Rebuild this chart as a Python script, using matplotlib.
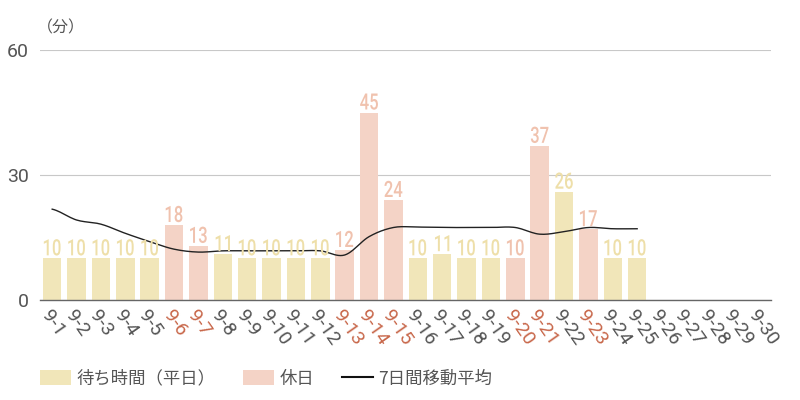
import numpy as np
import matplotlib
matplotlib.use("Agg")
import matplotlib.pyplot as plt
from matplotlib.patches import Patch, PathPatch
from matplotlib.lines import Line2D
from matplotlib.textpath import TextPath
from matplotlib.font_manager import FontProperties
from matplotlib.transforms import Affine2D, IdentityTransform

plt.rcParams['font.family'] = ['Noto Sans CJK JP', 'DejaVu Sans']

dates = [f"9-{d}" for d in range(1, 31)]
waits = [10, 10, 10, 10, 10, 18, 13, 11, 10, 10, 10, 10, 12, 45, 24,
         10, 11, 10, 10, 10, 37, 26, 17, 10, 10]
holidays = ["9-6", "9-7", "9-13", "9-14", "9-15", "9-20", "9-21", "9-23"]
moving_avg = [21.8, 19.2, 18.2, 16.0, 14.0, 12.2, 11.5, 11.8, 11.8, 11.8,
              11.8, 11.8, 10.8, 15.2, 17.4, 17.5, 17.4, 17.4, 17.4, 17.4,
              15.8, 16.4, 17.4, 17.1, 17.1]
yticks = [0, 30, 60]

YELLOW = "#F1E6B9"
PINK = "#F4D3C6"
YELLOW_TXT = "#EEDFA9"
PINK_TXT = "#F0C2AE"
RED = "#C8674A"
GRAY = "#555555"

fig = plt.figure(figsize=(8, 4), dpi=100)
ax = fig.add_axes([0.05, 0.25, 0.914, 0.625])

x = np.arange(len(dates))
n = len(waits)
colors = [PINK if dates[i] in holidays else YELLOW for i in range(n)]
tcolors = [PINK_TXT if dates[i] in holidays else YELLOW_TXT for i in range(n)]
ax.bar(x[:n], waits, width=0.76, color=colors, zorder=2)

ax.set_xlim(-0.5, len(dates) - 0.5)
ax.set_ylim(0, 60)

# condensed value labels drawn as scaled text paths
fp = FontProperties(family='Roboto', weight='medium')
em_px = 22.5
xscale = 0.74
for i in range(n):
    tp = TextPath((0, 0), str(waits[i]), size=1.0, prop=fp)
    bb = tp.get_extents()
    bx, by = ax.transData.transform((x[i], waits[i]))
    w = (bb.x1 - bb.x0) * em_px * xscale
    tr = (Affine2D().translate(-bb.x0, 0).scale(em_px * xscale, em_px)
          .translate(bx - w / 2, by + 3))
    patch = PathPatch(tr.transform_path(tp), facecolor=tcolors[i],
                      edgecolor='none', transform=IdentityTransform(),
                      zorder=3, clip_on=False)
    fig.patches.append(patch)
    patch.set_figure(fig)

# smooth line (Catmull-Rom through data points)
xs = x[:n].astype(float)
ys = np.array(moving_avg, dtype=float)
px = np.concatenate([[xs[0]], xs, [xs[-1]]])
py = np.concatenate([[ys[0]], ys, [ys[-1]]])
sx, sy = [], []
t = np.linspace(0, 1, 12, endpoint=False)
for k in range(1, len(px) - 2):
    p0, p1, p2, p3 = py[k - 1], py[k], py[k + 1], py[k + 2]
    yy = 0.5 * ((2 * p1) + (-p0 + p2) * t + (2 * p0 - 5 * p1 + 4 * p2 - p3) * t ** 2
                + (-p0 + 3 * p1 - 3 * p2 + p3) * t ** 3)
    sx.extend(px[k] + t * (px[k + 1] - px[k]))
    sy.extend(yy)
sx.append(xs[-1]); sy.append(ys[-1])
ax.plot(sx, sy, color='#222222', lw=1.0, zorder=4)

ax.set_yticks(yticks)
ax.set_yticklabels([str(v) for v in yticks], fontsize=14, color=GRAY,
                   family=['Roboto', 'DejaVu Sans'])
ax.yaxis.grid(True, color='#C8C8C8', lw=0.8, zorder=0)
ax.set_axisbelow(True)
for s in ['top', 'right', 'left']:
    ax.spines[s].set_visible(False)
ax.spines['bottom'].set_color('#666666')
ax.spines['bottom'].set_linewidth(1.0)
ax.tick_params(axis='both', length=0)
ax.tick_params(axis='y', pad=8)

ax.set_xticks(x)
ax.set_xticklabels(dates)
for lab in ax.get_xticklabels():
    lab.set_rotation(-55)
    lab.set_rotation_mode('anchor')
    lab.set_ha('left')
    lab.set_va('top')
    lab.set_fontsize(14)
    lab.set_family(['Roboto', 'DejaVu Sans'])
    lab.set_color(RED if lab.get_text() in holidays else GRAY)
ax.tick_params(axis='x', pad=5)

fig.text(0.046, 0.91, "（分）", fontsize=11.5, color=GRAY, ha='left', va='bottom')

handles = [Patch(facecolor=YELLOW, edgecolor='none'),
           Patch(facecolor=PINK, edgecolor='none'),
           Line2D([0], [0], color='#111111', lw=1.5)]
labels = ["待ち時間（平日）", "休日", "7日間移動平均"]
leg = fig.legend(handles, labels, loc='lower left', bbox_to_anchor=(0.03, -0.008),
                 ncol=3, frameon=False, fontsize=12.5, handlelength=1.8,
                 handleheight=0.9, handletextpad=0.3, columnspacing=1.6)
for t_ in leg.get_texts():
    t_.set_color(GRAY)

fig.savefig("out.png", dpi=100)
